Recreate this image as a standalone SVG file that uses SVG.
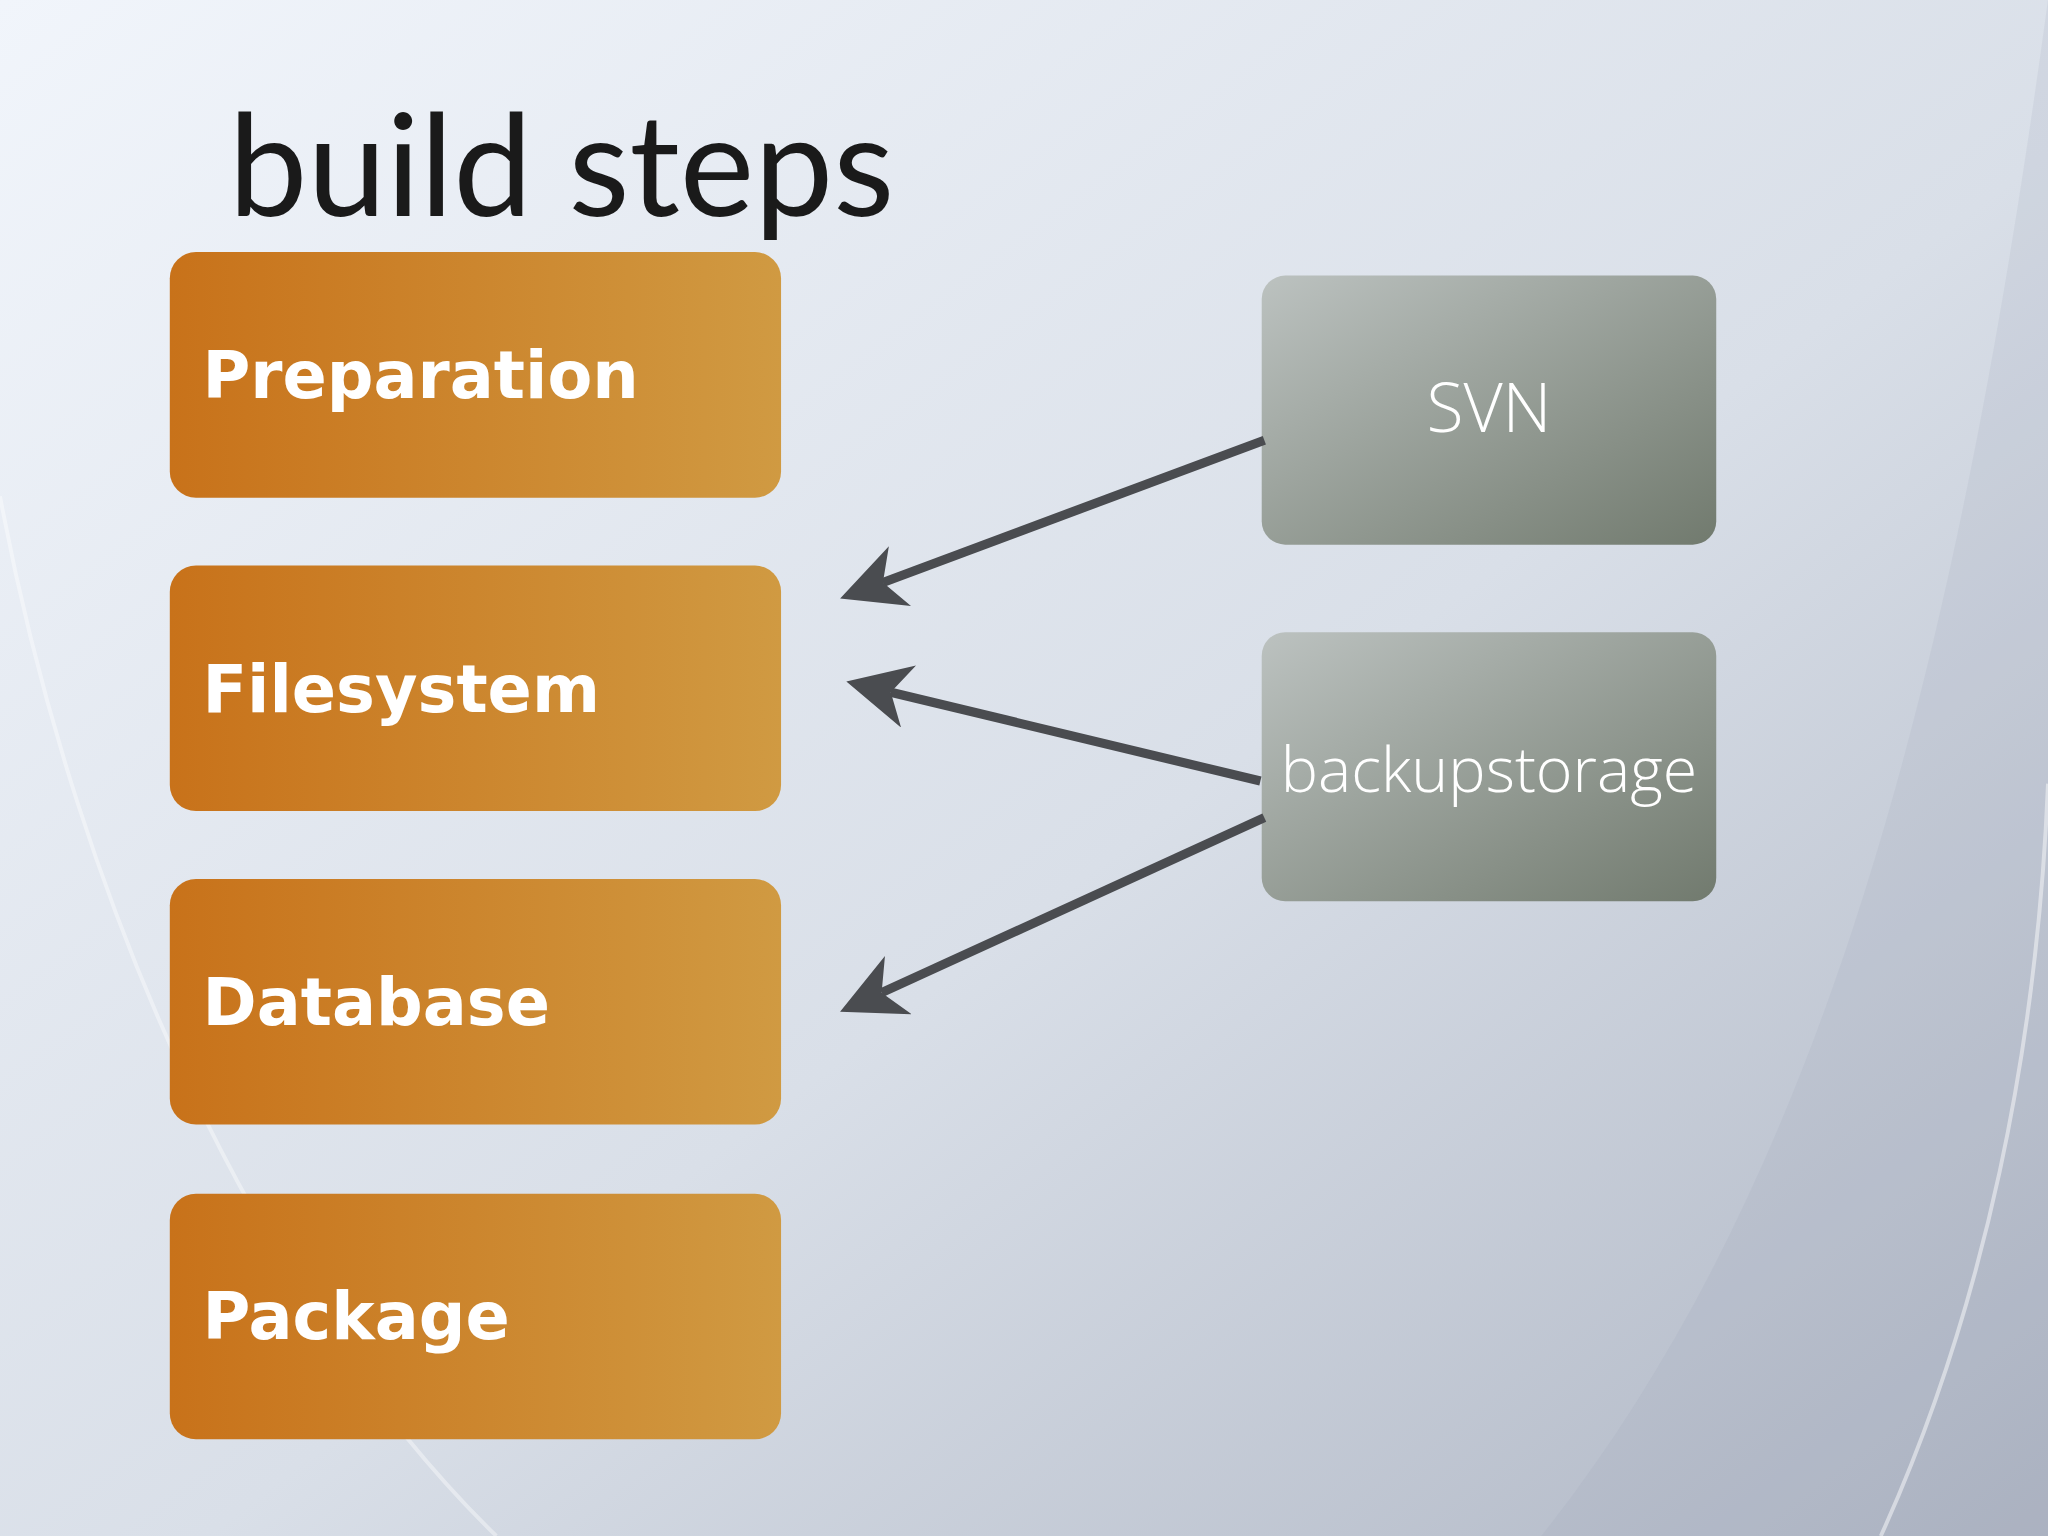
<svg xmlns="http://www.w3.org/2000/svg" width="2048" height="1536" viewBox="0 0 2048 1536">
<defs>
<linearGradient id="bg" x1="0" y1="0" x2="1" y2="1"><stop offset="0" stop-color="#f1f5fb"/><stop offset="0.55" stop-color="#d9dfe8"/><stop offset="1" stop-color="#aeb5c3"/></linearGradient>
<linearGradient id="or" x1="0" y1="0" x2="1" y2="0"><stop offset="0" stop-color="#c8721a"/><stop offset="1" stop-color="#d09a42"/></linearGradient>
<linearGradient id="gr" x1="0" y1="0" x2="1" y2="1"><stop offset="0" stop-color="#bcc2c0"/><stop offset="1" stop-color="#717a6e"/></linearGradient>
<marker id="ah" markerWidth="8" markerHeight="8" refX="2" refY="3.5" orient="auto" markerUnits="strokeWidth"><path d="M7,3.5 L0,0 L2,3.5 L0,7 Z" fill="#4a4c50"/></marker>
<style>
.ob{fill:url(#or)} .gb{fill:url(#gr)}
.lb{font-family:"DejaVu Sans",sans-serif;font-weight:bold;font-size:50px;fill:#fff}
.gl{font-family:"Open Sans",sans-serif;font-weight:300;fill:#fff;text-anchor:middle}
.cn{stroke:#4a4c50;stroke-width:7;fill:none;marker-end:url(#ah)}
</style>
</defs>
<g transform="scale(1.30612)">
<rect width="1568" height="1176" fill="url(#bg)"/>
<path d="M1440,1176 C1520,1000 1560,800 1568,600" stroke="#ffffff" stroke-opacity="0.6" stroke-width="3" fill="none"/>
<path d="M1180,1176 C1400,900 1500,500 1568,0 L1568,1176 Z" fill="#9aa2b4" fill-opacity="0.15"/>
<path d="M0,380 C60,700 200,1000 380,1176" stroke="#ffffff" stroke-opacity="0.4" stroke-width="3" fill="none"/>
<text x="175" y="165" font-family="Lato,'Open Sans',sans-serif" font-size="108" fill="#1a1a1a">build steps</text>
<g id="preparation"><rect class="ob" x="130" y="193" width="468" height="188" rx="20"/><text class="lb" x="155" y="305">Preparation</text></g>
<g id="filesystem"><rect class="ob" x="130" y="433" width="468" height="188" rx="20"/><text class="lb" x="155" y="545">Filesystem</text></g>
<g id="database"><rect class="ob" x="130" y="673" width="468" height="188" rx="20"/><text class="lb" x="155" y="785">Database</text></g>
<g id="package"><rect class="ob" x="130" y="914" width="468" height="188" rx="20"/><text class="lb" x="155" y="1025">Package</text></g>
<g id="svn"><rect class="gb" x="966" y="211" width="348" height="206" rx="18"/><text class="gl" x="1140" y="331" font-size="52">SVN</text></g>
<g id="backupstorage"><rect class="gb" x="966" y="484" width="348" height="206" rx="18"/><text class="gl" x="1140" y="606" font-size="48">backupstorage</text></g>
<g id="connectors">
<line class="cn" x1="968" y1="337" x2="676" y2="446"/>
<line class="cn" x1="965" y1="598" x2="682" y2="530"/>
<line class="cn" x1="968" y1="626" x2="675" y2="760"/>
</g>
</g>
</svg>
